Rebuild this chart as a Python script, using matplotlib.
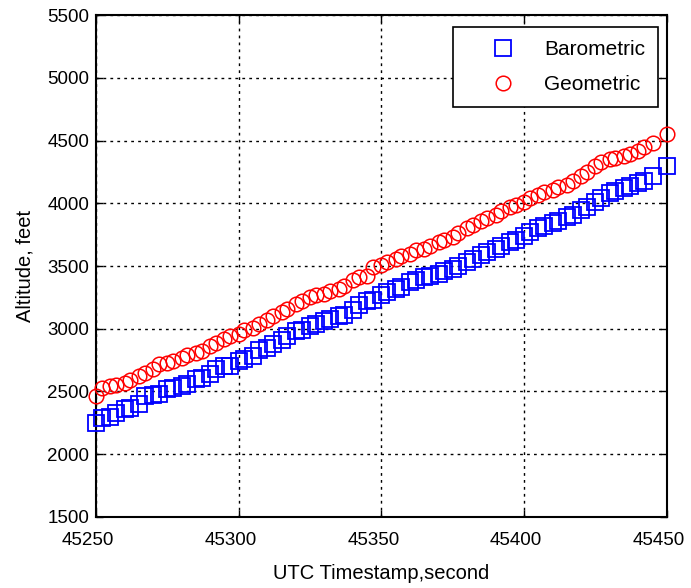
import matplotlib
matplotlib.use('Agg')
import matplotlib.pyplot as plt
from matplotlib.transforms import ScaledTranslation

plt.rcParams['font.family'] = ['Liberation Sans', 'DejaVu Sans']

# UTC timestamp (s)
t = [45250, 45252, 45255, 45257, 45260, 45262, 45265, 45267, 45270, 45272,
     45275, 45277, 45280, 45282, 45285, 45287, 45290, 45292, 45295, 45297,
     45300, 45302, 45305, 45307, 45310, 45312, 45315, 45317, 45320, 45322,
     45325, 45327, 45330, 45332, 45335, 45337, 45340, 45342, 45345, 45347,
     45350, 45352, 45355, 45357, 45360, 45362, 45365, 45367, 45370, 45372,
     45375, 45377, 45380, 45382, 45385, 45387, 45390, 45392, 45395, 45397,
     45400, 45402, 45405, 45407, 45410, 45412, 45415, 45417, 45420, 45422,
     45425, 45427, 45430, 45432, 45435, 45437, 45440, 45442, 45445, 45450]

baro = [2250, 2290, 2300, 2330, 2360, 2370, 2400, 2460, 2470, 2480,
        2520, 2530, 2540, 2560, 2600, 2610, 2640, 2680, 2700, 2700,
        2740, 2760, 2780, 2830, 2850, 2880, 2910, 2940, 2980, 2990,
        3020, 3040, 3060, 3080, 3100, 3110, 3150, 3190, 3220, 3230,
        3270, 3290, 3320, 3330, 3370, 3390, 3410, 3420, 3440, 3460,
        3480, 3500, 3530, 3560, 3590, 3610, 3640, 3660, 3690, 3710,
        3740, 3770, 3800, 3820, 3840, 3860, 3890, 3910, 3950, 3970,
        4010, 4040, 4080, 4100, 4120, 4140, 4160, 4180, 4220, 4300]

geo = [2460, 2530, 2540, 2550, 2570, 2590, 2620, 2650, 2680, 2720,
       2730, 2740, 2770, 2790, 2810, 2820, 2860, 2890, 2920, 2940,
       2960, 2990, 3010, 3040, 3070, 3100, 3130, 3160, 3200, 3220,
       3250, 3270, 3280, 3300, 3320, 3340, 3390, 3410, 3420, 3490,
       3510, 3530, 3560, 3580, 3600, 3630, 3640, 3660, 3690, 3710,
       3730, 3760, 3800, 3830, 3860, 3880, 3910, 3940, 3970, 3990,
       4010, 4040, 4070, 4090, 4110, 4130, 4150, 4180, 4220, 4250,
       4300, 4330, 4350, 4360, 4380, 4390, 4420, 4450, 4480, 4550]

xticks = [45250, 45300, 45350, 45400, 45450]
yticks = [1500, 2000, 2500, 3000, 3500, 4000, 4500, 5000, 5500]

fig = plt.figure(figsize=(6.91, 5.88), dpi=100)
ax = fig.add_axes([0.139, 0.121, 0.826, 0.853])

ax.plot(t, baro, 's', mfc='none', mec='blue', ms=11, mew=1.3,
        label='Barometric', clip_on=False, zorder=3)
ax.plot(t, geo, 'o', mfc='none', mec='red', ms=10.5, mew=1.1,
        label='Geometric', clip_on=False, zorder=3)

ax.set_xlim(45250, 45450)
ax.set_ylim(1500, 5500)
ax.set_xticks(xticks)
ax.set_yticks(yticks)
ax.set_xticklabels([str(v) for v in xticks])
ax.tick_params(direction='in', length=5, width=1, labelsize=13.5)
ax.tick_params(axis='x', pad=11)
ax.tick_params(axis='y', pad=5)
ax.tick_params(top=True, right=True)
ax.grid(True, color='black', linestyle=(0, (2, 3)), linewidth=1)
for s in ax.spines.values():
    s.set_linewidth(1.5)

# x tick labels sit a little left of their ticks in the original (~8 px)
shift = ScaledTranslation(-0.08, 0, fig.dpi_scale_trans)
for lbl in ax.get_xticklabels():
    lbl.set_transform(lbl.get_transform() + shift)

ax.set_xlabel('UTC Timestamp,second', fontsize=14.5, labelpad=11)
ax.set_ylabel('Altitude, feet', fontsize=14.5, labelpad=9)

leg = ax.legend(loc='upper right', bbox_to_anchor=(0.984, 0.976),
                borderaxespad=0, fontsize=15,
                fancybox=False, framealpha=1, edgecolor='black',
                handletextpad=0.2, borderpad=0.6, labelspacing=0.8,
                handlelength=3.6)
leg.get_frame().set_linewidth(1.2)

fig.savefig('out.png', dpi=100)
